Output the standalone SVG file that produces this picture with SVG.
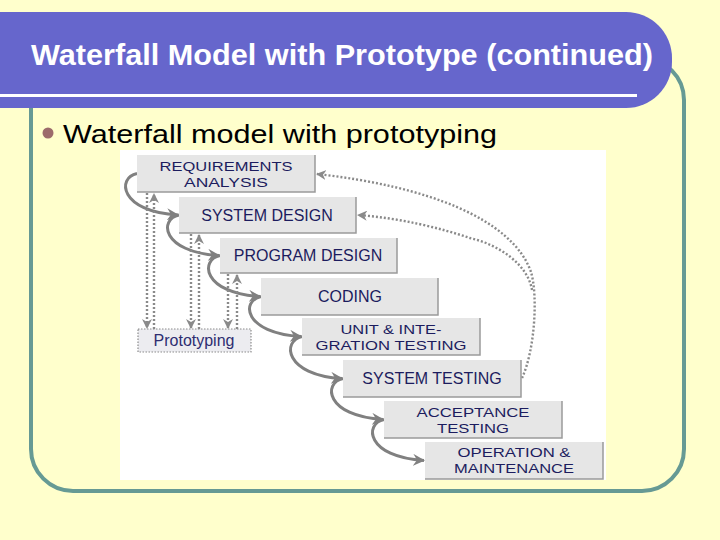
<svg xmlns="http://www.w3.org/2000/svg" width="720" height="540" viewBox="0 0 720 540">
<defs>
<style>
.bg{fill:#ffffcc}
.frame{fill:none;stroke:#669a94;stroke-width:4}
.banner{fill:#6666cc}
.title{font-family:"Liberation Sans",Arial,sans-serif;font-weight:bold;font-size:29px;fill:#ffffff}
.bullet-text{font-family:"Liberation Sans",Arial,sans-serif;font-size:26px;fill:#000000}
.box{fill:#e6e6e6}
.edge{fill:none;stroke:#9a9a9a;stroke-width:1.5}
.lbl{font-family:"Liberation Sans",Arial,sans-serif;font-size:16px;fill:#1c1c5e;text-anchor:middle}
.lbl2{font-family:"Liberation Sans",Arial,sans-serif;font-size:13.5px;fill:#1c1c5e;text-anchor:middle}
.proto{fill:#ececf0;stroke:#8c8c8c;stroke-width:1.2;stroke-dasharray:1.5 1.5}
.plbl{font-family:"Liberation Sans",Arial,sans-serif;font-size:16px;fill:#2e2e70;text-anchor:middle}
.flow{fill:none;stroke:#808080;stroke-width:3}
.dot{fill:none;stroke:#8a8a8a;stroke-width:2.4;stroke-dasharray:2 2}
</style>
<marker id="ah" viewBox="0 0 12 12" refX="11" refY="6" markerWidth="12" markerHeight="12" markerUnits="userSpaceOnUse" orient="auto">
<path d="M0,0 L12,6 L0,12 L4,6 Z" fill="#808080"/>
</marker>
<marker id="dh" viewBox="0 0 10 10" refX="9" refY="5" markerWidth="10" markerHeight="10" markerUnits="userSpaceOnUse" orient="auto">
<path d="M0,0 L10,5 L0,10 L3,5 Z" fill="#8a8a8a"/>
</marker>
</defs>
<rect class="bg" x="0" y="0" width="720" height="540"/>
<rect class="frame" x="31" y="58" width="653" height="433" rx="42" ry="42"/>
<g id="banner">
<path class="banner" d="M0,12 H626 A46,46 0 0 1 672,58 V62 A46,46 0 0 1 626,108 H0 Z"/>
<rect x="0" y="94" width="637" height="3" fill="#ffffff"/>
<text class="title" x="31" y="65" textLength="622" lengthAdjust="spacingAndGlyphs">Waterfall Model with Prototype (continued)</text>
</g>
<g id="bullet">
<circle cx="48" cy="133" r="5.5" fill="#9c6b6b"/>
<text class="bullet-text" x="63" y="143" textLength="434" lengthAdjust="spacingAndGlyphs">Waterfall model with prototyping</text>
</g>
<rect x="120" y="150" width="486" height="330" fill="#ffffff"/>
<g id="connectors">
<path class="flow" marker-end="url(#ah)" d="M137,173.5 C117,177.5 119,211.5 178,215"/>
<path class="flow" marker-end="url(#ah)" d="M179,215 C159,219 161,252 219,255.5"/>
<path class="flow" marker-end="url(#ah)" d="M220,255.5 C200,259.5 202,293 260,296.5"/>
<path class="flow" marker-end="url(#ah)" d="M261,296.5 C241,300.5 243,333 301,336.5"/>
<path class="flow" marker-end="url(#ah)" d="M302,336.5 C282,340.5 284,375 342,378.5"/>
<path class="flow" marker-end="url(#ah)" d="M343,378.5 C323,382.5 325,416 383,419.5"/>
<path class="flow" marker-end="url(#ah)" d="M384,419.5 C364,423.5 366,457 424,460.5"/>
<path class="dot" marker-end="url(#dh)" d="M147,193 V328"/>
<path class="dot" marker-end="url(#dh)" d="M154,329 V194"/>
<path class="dot" marker-end="url(#dh)" d="M191,234 V328"/>
<path class="dot" marker-end="url(#dh)" d="M199,329 V235"/>
<path class="dot" marker-end="url(#dh)" d="M228,274 V328"/>
<path class="dot" marker-end="url(#dh)" d="M237,329 V275"/>
<path class="dot" marker-end="url(#dh)" d="M522,378 C535,350 538,295 531,272 C512,218 425,186 317,174"/>
<path class="dot" marker-end="url(#dh)" d="M532,290 C528,265 500,245 470,238 C440,228 400,218 358,215"/>
</g>
<g id="req">
<rect class="box" x="137" y="155" width="178" height="37"/>
<path class="edge" d="M315,155 V192 H137"/>
<text class="lbl2" x="226" y="171" textLength="133" lengthAdjust="spacingAndGlyphs">REQUIREMENTS</text>
<text class="lbl2" x="226" y="186.5" textLength="84" lengthAdjust="spacingAndGlyphs">ANALYSIS</text>
</g>
<g id="sysdesign">
<rect class="box" x="179" y="197" width="177" height="36"/>
<path class="edge" d="M356,197 V233 H179"/>
<text class="lbl" x="267" y="221">SYSTEM DESIGN</text>
</g>
<g id="progdesign">
<rect class="box" x="220" y="238" width="177" height="35"/>
<path class="edge" d="M397,238 V273 H220"/>
<text class="lbl" x="308" y="261">PROGRAM DESIGN</text>
</g>
<g id="coding">
<rect class="box" x="261" y="278" width="177" height="37"/>
<path class="edge" d="M438,278 V315 H261"/>
<text class="lbl" x="350" y="302">CODING</text>
</g>
<g id="unit">
<rect class="box" x="302" y="318" width="178" height="37"/>
<path class="edge" d="M480,318 V355 H302"/>
<text class="lbl2" x="391" y="334" textLength="101" lengthAdjust="spacingAndGlyphs">UNIT &amp; INTE-</text>
<text class="lbl2" x="391" y="349.5" textLength="151" lengthAdjust="spacingAndGlyphs">GRATION TESTING</text>
</g>
<g id="systesting">
<rect class="box" x="343" y="360" width="178" height="37"/>
<path class="edge" d="M521,360 V397 H343"/>
<text class="lbl" x="432" y="384">SYSTEM TESTING</text>
</g>
<g id="acceptance">
<rect class="box" x="384" y="401" width="178" height="37"/>
<path class="edge" d="M562,401 V438 H384"/>
<text class="lbl2" x="473" y="417" textLength="113" lengthAdjust="spacingAndGlyphs">ACCEPTANCE</text>
<text class="lbl2" x="473" y="432.5" textLength="72" lengthAdjust="spacingAndGlyphs">TESTING</text>
</g>
<g id="operation">
<rect class="box" x="425" y="442" width="178" height="37"/>
<path class="edge" d="M603,442 V479 H425"/>
<text class="lbl2" x="514" y="457" textLength="113" lengthAdjust="spacingAndGlyphs">OPERATION &amp;</text>
<text class="lbl2" x="514" y="472.5" textLength="120" lengthAdjust="spacingAndGlyphs">MAINTENANCE</text>
</g>
<g id="prototyping">
<rect class="proto" x="138" y="329" width="113" height="23"/>
<text class="plbl" x="194" y="346">Prototyping</text>
</g>
</svg>
